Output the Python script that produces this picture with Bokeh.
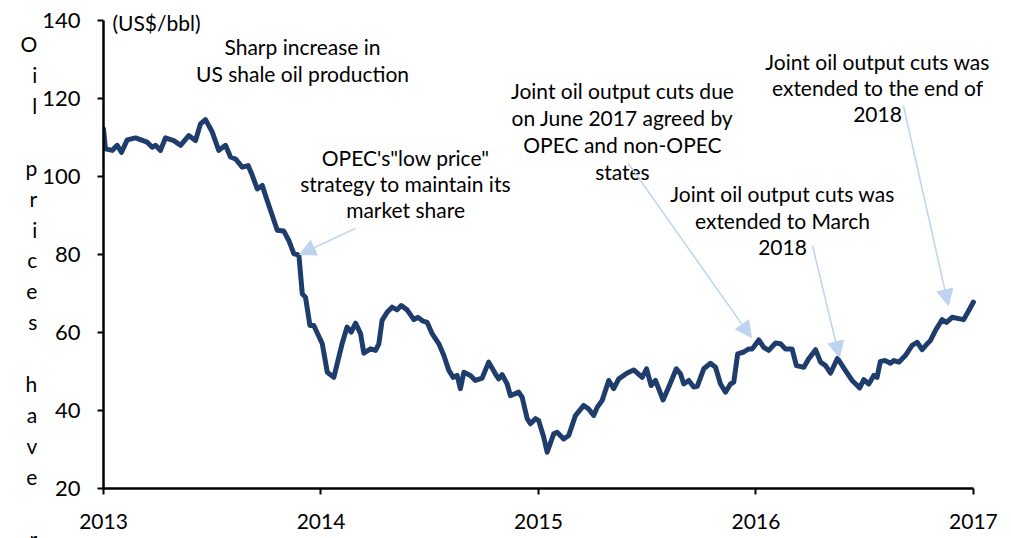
from bokeh.plotting import figure
from bokeh.models import Range1d, FixedTicker, Label, Arrow, NormalHead
from bokeh.embed import file_html
from bokeh.resources import INLINE

# ---- data ----
years = [2013.000, 2013.009, 2013.040, 2013.063, 2013.083, 2013.109, 2013.147, 2013.201,
         2013.224, 2013.239, 2013.262, 2013.285, 2013.323, 2013.354, 2013.392, 2013.423,
         2013.446, 2013.469, 2013.500, 2013.530, 2013.561, 2013.584, 2013.607, 2013.638,
         2013.665, 2013.684, 2013.707, 2013.730, 2013.753, 2013.776, 2013.799, 2013.829,
         2013.852, 2013.875, 2013.891, 2013.899, 2013.914, 2013.929, 2013.949, 2013.967,
         2014.006, 2014.029, 2014.059, 2014.097, 2014.120, 2014.139, 2014.159, 2014.182,
         2014.197, 2014.228, 2014.251, 2014.266, 2014.281, 2014.304, 2014.327, 2014.350,
         2014.369, 2014.396, 2014.427, 2014.445, 2014.470, 2014.488, 2014.511, 2014.542,
         2014.565, 2014.588, 2014.608, 2014.626, 2014.641, 2014.657, 2014.687, 2014.710,
         2014.741, 2014.771, 2014.802, 2014.817, 2014.833, 2014.856, 2014.871, 2014.909,
         2014.925, 2014.948, 2014.963, 2014.986, 2015.001, 2015.024, 2015.040, 2015.070,
         2015.086, 2015.116, 2015.139, 2015.170, 2015.208, 2015.231, 2015.254, 2015.270,
         2015.293, 2015.323, 2015.346, 2015.369, 2015.408, 2015.438, 2015.477, 2015.497,
         2015.518, 2015.538, 2015.573, 2015.599, 2015.634, 2015.653, 2015.668, 2015.691,
         2015.714, 2015.730, 2015.760, 2015.791, 2015.814, 2015.837, 2015.860, 2015.883,
         2015.898, 2015.916, 2015.944, 2015.967, 2015.983, 2016.013, 2016.036, 2016.059,
         2016.090, 2016.113, 2016.136, 2016.166, 2016.186, 2016.220, 2016.243, 2016.274,
         2016.297, 2016.320, 2016.343, 2016.375, 2016.411, 2016.442, 2016.477, 2016.496,
         2016.519, 2016.542, 2016.557, 2016.572, 2016.595, 2016.618, 2016.634, 2016.657,
         2016.687, 2016.718, 2016.741, 2016.764, 2016.787, 2016.802, 2016.825, 2016.856,
         2016.876, 2016.902, 2016.955, 2016.978, 2017.000]
prices = [112.2, 107.1, 106.7, 108.0, 106.2, 109.4, 109.9, 108.8,
          107.5, 108.0, 106.7, 109.9, 109.2, 108.0, 110.5, 109.2,
          113.5, 114.6, 111.4, 106.7, 108.0, 105.0, 104.5, 102.4,
          102.8, 100.3, 96.8, 97.7, 93.8, 90.0, 86.2, 86.0,
          83.6, 80.2, 80.0, 79.5, 69.9, 69.0, 61.8, 61.8,
          57.1, 49.8, 48.5, 57.1, 61.4, 60.1, 62.4, 59.7,
          54.7, 55.8, 55.4, 57.1, 63.1, 65.2, 66.5, 65.8,
          66.9, 65.8, 63.3, 63.9, 62.9, 62.6, 59.7, 57.1,
          54.1, 50.3, 48.5, 49.0, 45.6, 49.8, 49.0, 47.7,
          48.3, 52.4, 49.4, 48.1, 49.2, 46.8, 43.8, 44.7,
          43.4, 37.9, 36.6, 37.9, 37.4, 33.2, 29.3, 34.0,
          34.4, 32.7, 33.6, 38.7, 41.3, 40.4, 38.7, 40.8,
          42.6, 47.7, 45.6, 48.1, 49.6, 50.4, 48.5, 50.7,
          46.4, 47.7, 42.7, 46.0, 50.7, 49.4, 46.8, 47.7,
          46.0, 46.2, 50.7, 52.1, 51.1, 46.8, 44.7, 46.8,
          47.3, 54.5, 55.0, 55.8, 55.8, 58.1, 56.2, 55.4,
          57.3, 57.1, 55.8, 55.8, 51.5, 51.1, 53.3, 55.6,
          52.4, 51.5, 49.6, 53.4, 50.3, 47.7, 45.8, 47.9,
          46.8, 49.0, 48.5, 52.6, 52.8, 52.1, 52.8, 52.4,
          54.1, 56.7, 57.5, 55.6, 57.1, 57.9, 60.5, 63.3,
          62.6, 63.9, 63.3, 65.6, 67.8]

x_ticks = [2013, 2014, 2015, 2016, 2017]
x_tick_labels = ["2013", "2014", "2015", "2016", "2017"]
y_ticks = [20, 40, 60, 80, 100, 120, 140]
y_title = "Oil prices have r"

FONT = "Lato"
LINE_COLOR = "#1F3D6C"
ARROW_COLOR = "#BDD3EE"

# ranges extend past the axes so that texts outside the axes' span are not clipped
p = figure(width=1011, height=538,
           x_range=Range1d(2013, 2017.175), y_range=Range1d(20, 145.13),
           output_backend="svg", toolbar_location=None,
           min_border_left=103, min_border_right=0,
           min_border_top=0, min_border_bottom=50)

p.line(years, prices, line_color=LINE_COLOR, line_width=5,
       line_join="round", line_cap="round")

# axes
for ax in (p.xaxis[0], p.yaxis[0]):
    ax.axis_line_color = "black"
    ax.axis_line_width = 2.5
    ax.major_tick_line_color = "black"
    ax.major_tick_line_width = 2
    ax.major_tick_out = 6
    ax.major_tick_in = 0
    ax.minor_tick_line_color = None
    ax.major_label_text_font = FONT
    ax.major_label_text_color = "black"

p.xaxis.ticker = FixedTicker(ticks=x_ticks)
p.xaxis.bounds = (2013, 2017)
p.xaxis.major_label_overrides = {t: l for t, l in zip(x_ticks, x_tick_labels)}
p.xaxis.major_label_standoff = 19
p.xaxis.major_label_text_font_size = "21px"
p.yaxis.ticker = FixedTicker(ticks=y_ticks)
p.yaxis.bounds = (20, 140)
p.yaxis.major_label_standoff = 17
p.yaxis.major_label_text_font_size = "22px"

# stacked (one character per line) y-axis title
stacked = "\n".join([" ", " ", " "] + [c if c != " " else " " for c in y_title])
yax = p.yaxis[0]
yax.axis_label = stacked
yax.axis_label_text_font = FONT
yax.axis_label_text_font_size = "21px"
yax.axis_label_text_font_style = "normal"
yax.axis_label_text_color = "black"
yax.axis_label_standoff = 2
yax.axis_label_text_line_height = 1.236
try:
    yax.axis_label_orientation = "horizontal"
except Exception:
    pass

p.xgrid.visible = False
p.ygrid.visible = False
p.outline_line_color = None
p.background_fill_color = "white"
p.border_fill_color = "white"


def add_text(x, y, text, align="center"):
    p.add_layout(Label(x=x, y=y, text=text, text_font=FONT, text_font_size="21px",
                       text_color="black", text_align=align, text_baseline="middle"))


# unit label
add_text(2013.041, 139.5, "(US$/bbl)", align="left")

# annotation texts
notes = [
    (2013.915, [133.3, 126.4], ["Sharp increase in", "US shale oil production"]),
    (2014.389, [104.9, 98.2, 91.5], ["OPEC's\"low price\"", "strategy to maintain its", "market share"]),
    (2015.386, [122.1, 115.1, 108.2, 101.3], ["Joint oil output cuts due", "on June 2017 agreed by",
                                               "OPEC and non-OPEC", "states"]),
    (2016.122, [95.6, 88.7, 81.8], ["Joint oil output cuts was", "extended to March", "2018"]),
    (2016.559, [129.5, 122.8, 115.9], ["Joint oil output cuts was", "extended to the end of", "2018"]),
]
for x, ys, lines in notes:
    for y, t in zip(ys, lines):
        add_text(x, y, t)

# arrows
arrows = [
    (2014.159, 86.7, 2013.901, 80.0),
    (2015.414, 103.3, 2015.979, 58.7),
    (2016.260, 82.3, 2016.384, 53.6),
    (2016.678, 118.2, 2016.885, 66.9),
]
for xs, ys, xe, ye in arrows:
    p.add_layout(Arrow(x_start=xs, y_start=ys, x_end=xe, y_end=ye,
                       line_color=ARROW_COLOR, line_width=1.5,
                       end=NormalHead(size=16, fill_color=ARROW_COLOR,
                                      line_color=ARROW_COLOR, line_width=1)))

open("out.html", "w").write(file_html(p, INLINE))
